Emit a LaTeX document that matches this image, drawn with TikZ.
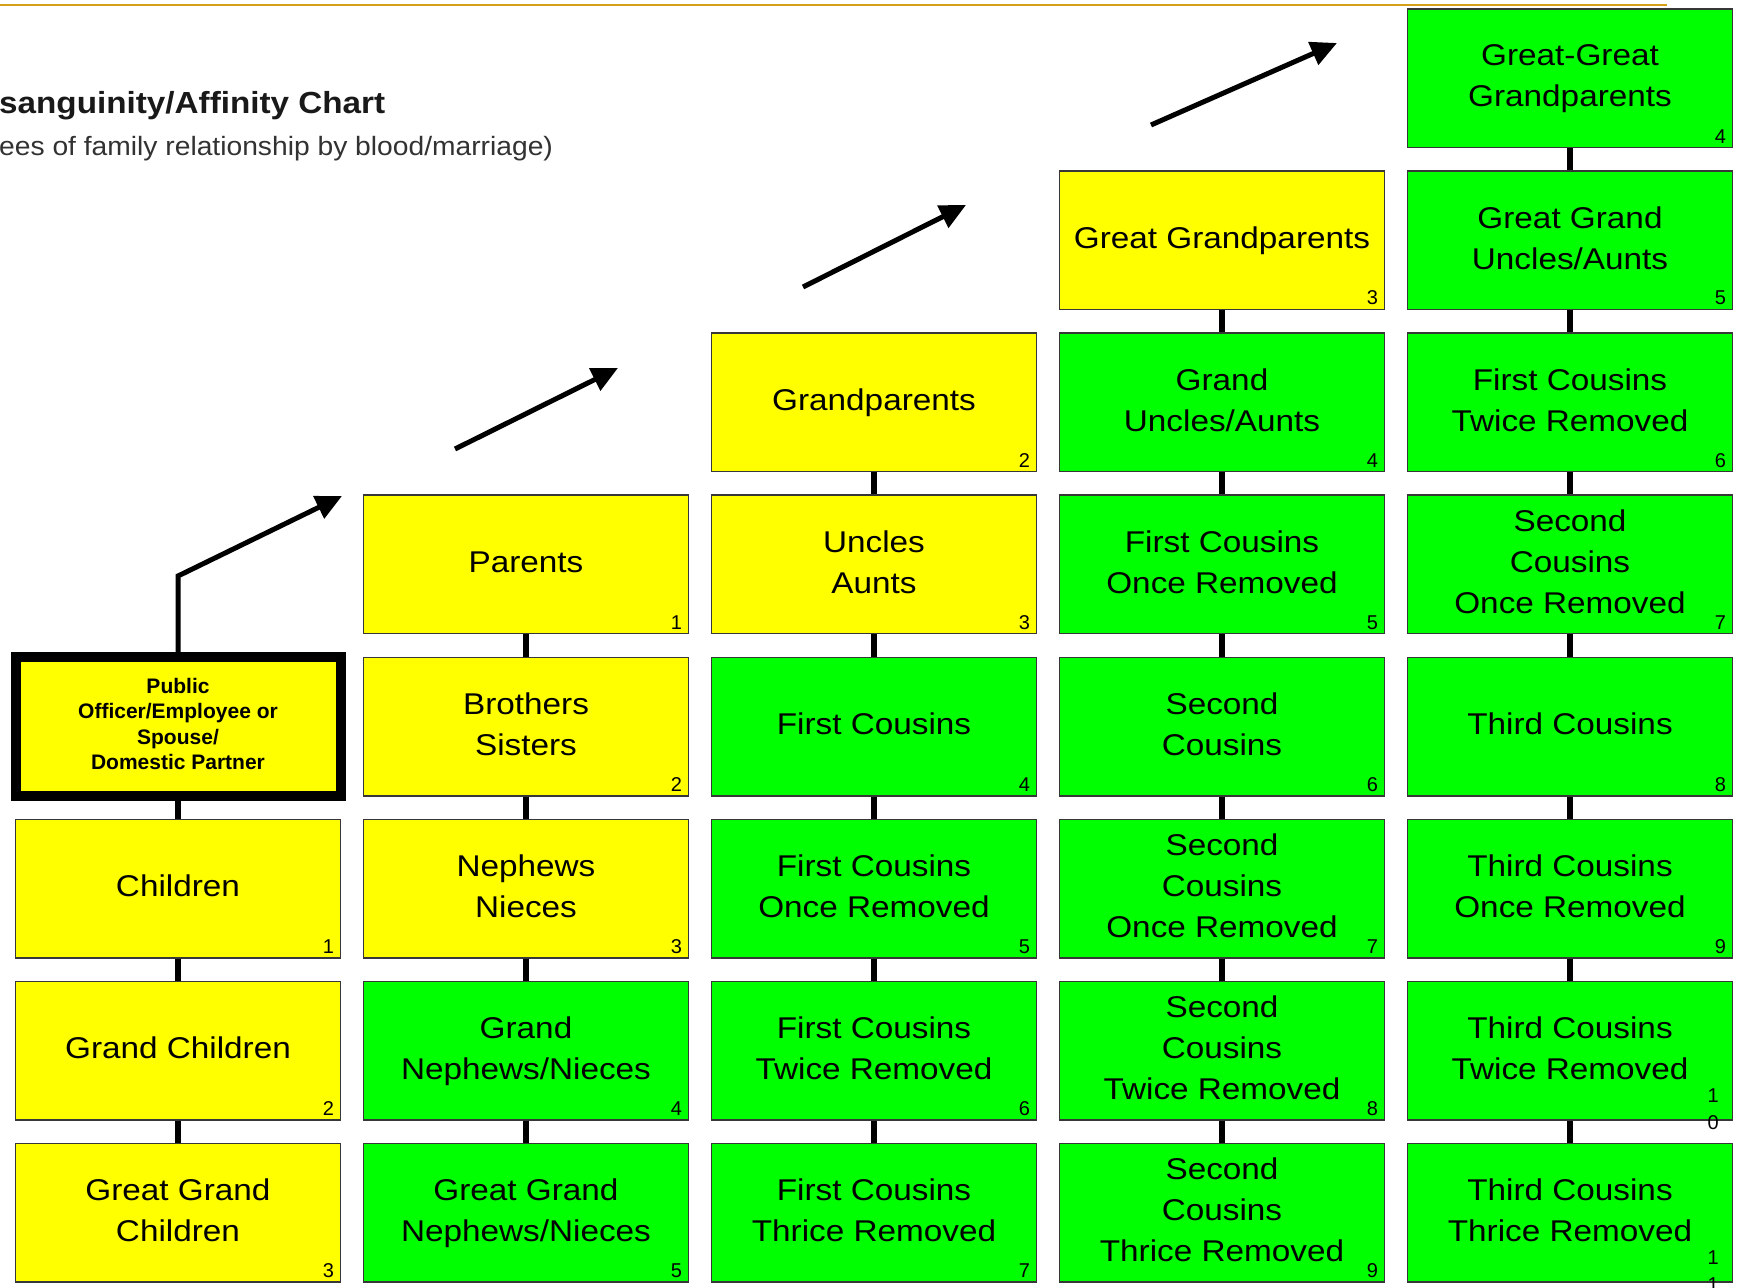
\documentclass[tikz,border=0pt]{standalone}
\usepackage{fontspec}
\setmainfont{Liberation Sans}
\usepackage{graphicx}
\usetikzlibrary{arrows.meta}
\definecolor{yel}{RGB}{255,255,0}
\definecolor{grn}{RGB}{0,255,0}
\definecolor{goldline}{RGB}{212,160,23}
\definecolor{edgecol}{RGB}{55,55,55}
\definecolor{titlecol}{RGB}{25,25,25}
\definecolor{subcol}{RGB}{50,50,50}
\newcommand\bt[1]{\scalebox{1.11}[1]{\fontsize{30}{41}\selectfont\begin{tabular}{@{}c@{}}#1\end{tabular}}}
\newcommand\cellbox[5]{\node[box,fill=#4] (#1) at ({178+348*#2},{78.25+162.07*#3}) {\bt{#5}};}
\newcommand\cellnum[2]{\node[num,anchor=south east] (#1n) at ([xshift=-7pt,yshift=5pt]#1.south east) {#2};}
\newcommand\cellnumtwo[2]{\node[num,anchor=north] (#1n) at ([xshift=-20pt,yshift=37pt]#1.south east) {\begin{tabular}{@{}c@{}}#2\end{tabular}};}
\begin{document}
\begin{tikzpicture}[x=1pt,y=-1pt,
  box/.style={draw=edgecol, line width=1.5pt, minimum width=325pt, minimum height=138.5pt, inner sep=0pt},
  num/.style={inner sep=0pt, font=\fontsize{20}{27}\selectfont},
  conn/.style={line width=5.5pt, black},
  arr/.style={line width=5pt, black, -{Triangle[length=26pt,width=24pt]}},
  pubbox/.style={draw=black, fill=yel, line width=10pt, minimum width=325pt, minimum height=138.5pt, inner sep=0pt, align=center, font=\fontsize{21}{25.5}\selectfont\bfseries}
]
\fill[white] (0,0) rectangle (1738,1288);
\useasboundingbox (0,0) rectangle (1738,1288);

% top rule
\coordinate (ruleL) at (0,5);
\coordinate (ruleR) at (1667,5);
\draw[goldline, line width=2.5pt] (ruleL) -- (ruleR);

% title
\node[anchor=base west, inner sep=0pt, text=titlecol, font=\fontsize{30.5}{36}\selectfont\bfseries] (title) at (-1,113) {\scalebox{1.09}[1]{sanguinity/Affinity Chart}};
\node[anchor=base west, inner sep=0pt, text=subcol, font=\fontsize{26.5}{31}\selectfont] (subtitle) at (-1,155) {\scalebox{1.065}[1]{ees of family relationship by blood/marriage)}};

% column 0
\node[pubbox] (pub) at (178,{78.25+162.07*4}) {\raisebox{4.5pt}{\begin{tabular}{@{}c@{}}Public\\Officer/Employee or\\Spouse/\\Domestic Partner\end{tabular}}};
\cellbox{c0r5}{0}{5}{yel}{Children}\cellnum{c0r5}{1}
\cellbox{c0r6}{0}{6}{yel}{Grand Children}\cellnum{c0r6}{2}
\cellbox{c0r7}{0}{7}{yel}{Great Grand\\Children}\cellnum{c0r7}{3}

% column 1
\cellbox{c1r3}{1}{3}{yel}{Parents}\cellnum{c1r3}{1}
\cellbox{c1r4}{1}{4}{yel}{Brothers\\Sisters}\cellnum{c1r4}{2}
\cellbox{c1r5}{1}{5}{yel}{Nephews\\Nieces}\cellnum{c1r5}{3}
\cellbox{c1r6}{1}{6}{grn}{Grand\\Nephews/Nieces}\cellnum{c1r6}{4}
\cellbox{c1r7}{1}{7}{grn}{Great Grand\\Nephews/Nieces}\cellnum{c1r7}{5}

% column 2
\cellbox{c2r2}{2}{2}{yel}{Grandparents}\cellnum{c2r2}{2}
\cellbox{c2r3}{2}{3}{yel}{Uncles\\Aunts}\cellnum{c2r3}{3}
\cellbox{c2r4}{2}{4}{grn}{First Cousins}\cellnum{c2r4}{4}
\cellbox{c2r5}{2}{5}{grn}{First Cousins\\Once Removed}\cellnum{c2r5}{5}
\cellbox{c2r6}{2}{6}{grn}{First Cousins\\Twice Removed}\cellnum{c2r6}{6}
\cellbox{c2r7}{2}{7}{grn}{First Cousins\\Thrice Removed}\cellnum{c2r7}{7}

% column 3
\cellbox{c3r1}{3}{1}{yel}{Great Grandparents}\cellnum{c3r1}{3}
\cellbox{c3r2}{3}{2}{grn}{Grand\\Uncles/Aunts}\cellnum{c3r2}{4}
\cellbox{c3r3}{3}{3}{grn}{First Cousins\\Once Removed}\cellnum{c3r3}{5}
\cellbox{c3r4}{3}{4}{grn}{Second\\Cousins}\cellnum{c3r4}{6}
\cellbox{c3r5}{3}{5}{grn}{Second\\Cousins\\Once Removed}\cellnum{c3r5}{7}
\cellbox{c3r6}{3}{6}{grn}{Second\\Cousins\\Twice Removed}\cellnum{c3r6}{8}
\cellbox{c3r7}{3}{7}{grn}{Second\\Cousins\\Thrice Removed}\cellnum{c3r7}{9}

% column 4
\cellbox{c4r0}{4}{0}{grn}{Great-Great\\Grandparents}\cellnum{c4r0}{4}
\cellbox{c4r1}{4}{1}{grn}{Great Grand\\Uncles/Aunts}\cellnum{c4r1}{5}
\cellbox{c4r2}{4}{2}{grn}{First Cousins\\Twice Removed}\cellnum{c4r2}{6}
\cellbox{c4r3}{4}{3}{grn}{Second\\Cousins\\Once Removed}\cellnum{c4r3}{7}
\cellbox{c4r4}{4}{4}{grn}{Third Cousins}\cellnum{c4r4}{8}
\cellbox{c4r5}{4}{5}{grn}{Third Cousins\\Once Removed}\cellnum{c4r5}{9}
\cellbox{c4r6}{4}{6}{grn}{Third Cousins\\Twice Removed}\cellnumtwo{c4r6}{1\\0}
\cellbox{c4r7}{4}{7}{grn}{Third Cousins\\Thrice Removed}\cellnumtwo{c4r7}{1\\1}

% vertical connectors
\draw[conn] (pub.south) -- (c0r5.north);
\draw[conn] (c0r5.south) -- (c0r6.north);
\draw[conn] (c0r6.south) -- (c0r7.north);
\foreach \a/\b in {c1r3/c1r4,c1r4/c1r5,c1r5/c1r6,c1r6/c1r7,
                   c2r2/c2r3,c2r3/c2r4,c2r4/c2r5,c2r5/c2r6,c2r6/c2r7,
                   c3r1/c3r2,c3r2/c3r3,c3r3/c3r4,c3r4/c3r5,c3r5/c3r6,c3r6/c3r7,
                   c4r0/c4r1,c4r1/c4r2,c4r2/c4r3,c4r3/c4r4,c4r4/c4r5,c4r5/c4r6,c4r6/c4r7}
  \draw[conn] (\a.south) -- (\b.north);

% arrows
\coordinate (bend) at (178,576);
\coordinate (a1e) at (342,496);
\draw[arr] (pub.north) -- (bend) -- (a1e);
\coordinate (a2s) at (455,449);
\coordinate (a2e) at (618,368);
\draw[arr] (a2s) -- (a2e);
\coordinate (a3s) at (803,287);
\coordinate (a3e) at (966,205);
\draw[arr] (a3s) -- (a3e);
\coordinate (a4s) at (1151,125);
\coordinate (a4e) at (1337,43);
\draw[arr] (a4s) -- (a4e);
\end{tikzpicture}
\end{document}
